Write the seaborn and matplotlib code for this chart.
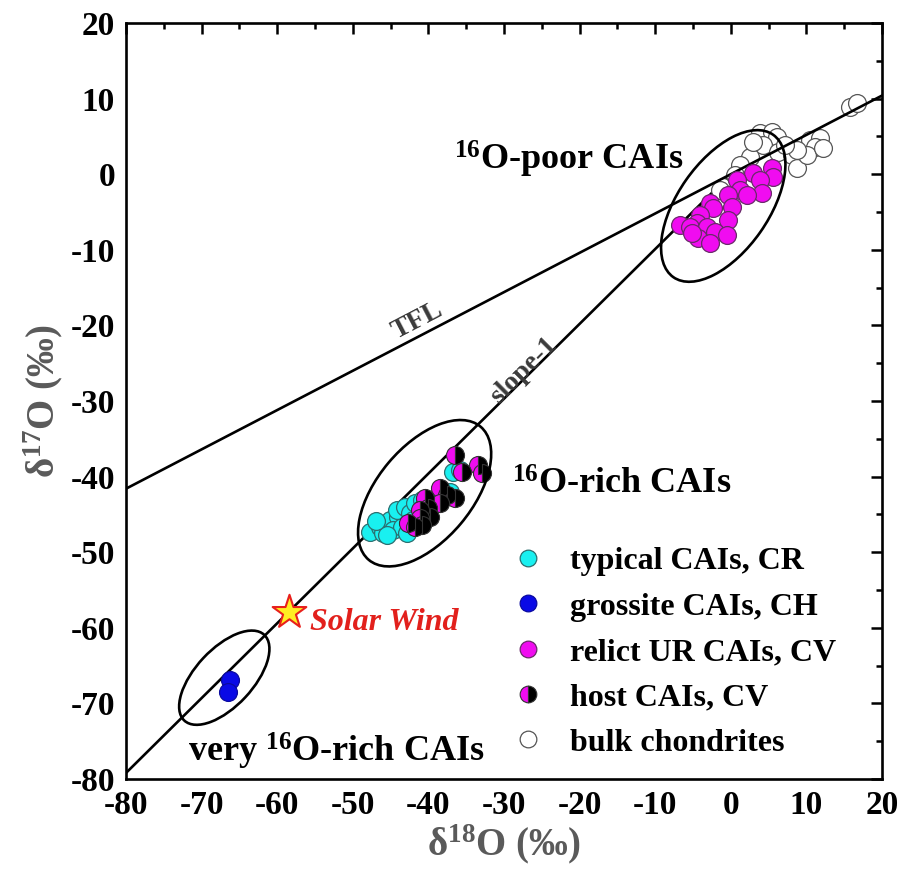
import numpy as np
import pandas as pd
import matplotlib
matplotlib.use("Agg")
import matplotlib.pyplot as plt
import seaborn as sns
from matplotlib.patches import Ellipse
from matplotlib.lines import Line2D

# ---------------- data ----------------
typical_x = [-47.7, -46.4, -46.0, -45.1, -44.0, -44.7, -43.5, -42.8, -45.5, -44.2, -43.1,
             -42.4, -41.8, -40.8, -40.7, -39.8, -42.0, -38.5, -37.1, -36.7, -35.8, -46.9]
typical_y = [-47.3, -46.7, -47.5, -45.7, -45.3, -47.1, -46.7, -47.5, -47.7, -44.4, -44.0,
             -44.8, -43.5, -43.1, -44.0, -43.5, -45.7, -42.7, -42.0, -39.4, -39.1, -45.9]

grossite_x = [-66.2, -66.5]
grossite_y = [-66.9, -68.5]

relict_x = [5.4, 5.6, 2.9, 0.8, 1.2, 3.9, 4.1, 2.1, -0.4, 0.2, -2.8, -2.4, -0.4, -4.1,
            -4.5, -6.7, -5.4, -3.1, -2.1, -0.5, -4.3, -2.8, -5.1]
relict_y = [0.8, -0.4, 0.2, -0.8, -2.1, -0.8, -2.5, -2.8, -2.8, -4.3, -3.8, -4.5, -6.1,
            -5.4, -6.5, -6.7, -7.0, -7.0, -7.6, -8.0, -8.4, -9.1, -7.8]

host_x = [-36.5, -33.4, -35.6, -32.9, -38.5, -37.5, -36.5, -40.4, -40.1, -38.5, -41.1,
          -41.1, -39.8, -42.7, -41.8, -40.8]
host_y = [-37.1, -38.5, -39.4, -39.5, -41.5, -42.4, -42.8, -42.8, -44.2, -43.5, -44.4,
          -45.5, -45.3, -46.1, -46.7, -46.4]

bulk_x = [3.9, 5.4, 6.1, 4.3, 2.5, 6.2, 8.1, 8.8, 10.5, 11.8, 11.1, 10.1, 8.8, -1.0,
          -1.4, 15.8, 16.7, 1.2, 0.6, 7.2, 12.2, 3.0]
bulk_y = [5.4, 5.6, 4.9, 3.9, 2.3, 2.9, 2.5, 0.8, 4.5, 4.8, 3.6, 2.5, 3.2, -1.7,
          -2.1, 8.9, 9.4, 1.2, -0.1, 3.9, 3.4, 4.2]

solar_wind_x = [-58.4]
solar_wind_y = [-57.9]

# reference lines (slope, intercept)
tfl_slope, tfl_icpt = 0.52, 0.0
s1_slope, s1_icpt = 0.99, 0.0

legend_labels = ["typical CAIs, CR", "grossite CAIs, CH", "relict UR CAIs, CV",
                 "host CAIs, CV", "bulk chondrites"]

# ---------------- style ----------------
sns.set_theme(style="white")
plt.rcParams['font.family'] = ['Liberation Serif', 'DejaVu Serif']
plt.rcParams['font.weight'] = 'bold'
plt.rcParams['axes.unicode_minus'] = False
plt.rcParams['text.color'] = 'black'
plt.rcParams['xtick.color'] = 'black'
plt.rcParams['ytick.color'] = 'black'
plt.rcParams['mathtext.fontset'] = 'custom'
plt.rcParams['mathtext.rm'] = 'Liberation Serif:bold'
plt.rcParams['mathtext.bf'] = 'Liberation Serif:bold'
plt.rcParams['mathtext.it'] = 'Liberation Serif:italic:bold'
plt.rcParams['mathtext.default'] = 'rm'

fig = plt.figure(figsize=(9.03, 8.8), dpi=100)
ax = fig.add_axes([126/903, 1-779/880, (882-126)/903, (779-23)/880])

CYAN = '#19f0f0'
BLUE = '#0a0ae6'
MAG = '#f00cf0'
S = 165

# lines
xt = np.array([-80, 20])
ax.plot(xt, tfl_slope*xt + tfl_icpt, color='black', lw=1.9, zorder=3)
xs = np.array([-80, 2.0])
ax.plot(xs, s1_slope*xs + s1_icpt, color='black', lw=1.9, zorder=1.5)

# points
sns.scatterplot(x=bulk_x, y=bulk_y, ax=ax, color='white', edgecolor='#555555',
                linewidth=0.9, s=S, zorder=2)
sns.scatterplot(x=typical_x, y=typical_y, ax=ax, color=CYAN, edgecolor='#2b6f70',
                linewidth=0.9, s=S, zorder=4)
sns.scatterplot(x=grossite_x, y=grossite_y, ax=ax, color=BLUE, edgecolor='#0a0aa0',
                linewidth=0.9, s=S, zorder=4)
sns.scatterplot(x=relict_x, y=relict_y, ax=ax, color=MAG, edgecolor='#6a2a6a',
                linewidth=0.9, s=S, zorder=4)
ax.plot(host_x, host_y, linestyle='none', marker='o', markersize=13, fillstyle='left',
        markerfacecolor=MAG, markerfacecoloralt='black', markeredgecolor='#333333',
        markeredgewidth=0.8, zorder=4.5)
sns.scatterplot(x=solar_wind_x, y=solar_wind_y, ax=ax, marker='*', color='#ffee22',
                edgecolor='#e8201c', linewidth=1.5, s=650, zorder=6)

# ellipses
for (cx, cy, w, h, ang) in [(-1.0, -4.2, 23.0, 12.0, 55),
                            (-40.5, -42.2, 23.0, 12.5, 50),
                            (-67.0, -66.6, 15.5, 7.6, 47)]:
    ax.add_patch(Ellipse((cx, cy), w, h, angle=ang, fill=False, lw=1.9,
                         edgecolor='black', zorder=5))

ax.set_xlim(-80, 20)
ax.set_ylim(-80, 20)
ax.set_xticks(np.arange(-80, 21, 10))
ax.set_yticks(np.arange(-80, 21, 10))
ax.set_xticks(np.arange(-75, 20, 10), minor=True)
ax.set_yticks(np.arange(-75, 20, 10), minor=True)
ax.tick_params(which='both', direction='in', top=True, right=True, width=1.8, color='black')
ax.tick_params(which='major', length=8, labelsize=24, pad=8)
ax.tick_params(which='minor', length=4)
for lab in ax.get_xticklabels() + ax.get_yticklabels():
    lab.set_fontweight('bold')
for sp in ax.spines.values():
    sp.set_linewidth(1.9)
    sp.set_color('black')

ax.set_xlabel('δ$^{18}$O (‰)', fontsize=28, color='#5a5a5a', fontweight='bold', labelpad=1)
ax.set_ylabel('δ$^{17}$O (‰)', fontsize=28, color='#5a5a5a', fontweight='bold', labelpad=4)

# annotations
ax.text(-21.4, 2.0, '$^{16}$O-poor CAIs', fontsize=26, fontweight='bold', ha='center', va='center')
ax.text(-14.5, -41.2, '$^{16}$O-rich CAIs', fontsize=26, fontweight='bold', ha='center', va='center')
ax.text(-52.2, -76.3, 'very $^{16}$O-rich CAIs', fontsize=26, fontweight='bold', ha='center', va='center')
ax.text(-41.5, -19.4, 'TFL', fontsize=20, fontweight='bold', color='#3a3a3a',
        rotation=27.5, rotation_mode='anchor', ha='center', va='center')
ax.text(-27.4, -26.0, 'slope-1', fontsize=20, fontweight='bold', color='#3a3a3a',
        rotation=45, rotation_mode='anchor', ha='center', va='center')
ax.text(-55.7, -59.3, 'Solar Wind', fontsize=23, fontweight='bold', fontstyle='italic',
        color='#e2201c', ha='left', va='center')

handles = [
    Line2D([], [], ls='none', marker='o', ms=12, mfc=CYAN, mec='#2b6f70', mew=0.9),
    Line2D([], [], ls='none', marker='o', ms=12, mfc=BLUE, mec='#0a0aa0', mew=0.9),
    Line2D([], [], ls='none', marker='o', ms=12, mfc=MAG, mec='#6a2a6a', mew=0.9),
    Line2D([], [], ls='none', marker='o', ms=12, fillstyle='left', mfc=MAG,
           mfcalt='black', mec='#333333', mew=0.8),
    Line2D([], [], ls='none', marker='o', ms=12, mfc='white', mec='#555555', mew=0.9),
]
leg = ax.legend(handles, legend_labels, loc='upper left', frameon=False,
                bbox_to_anchor=(493/903, 1-531/880), bbox_transform=fig.transFigure,
                prop={'family': 'Liberation Serif', 'weight': 'bold', 'size': 23},
                handletextpad=0.72, labelspacing=0.5, handlelength=1.2, borderpad=0)

fig.savefig('out.png', dpi=100)
